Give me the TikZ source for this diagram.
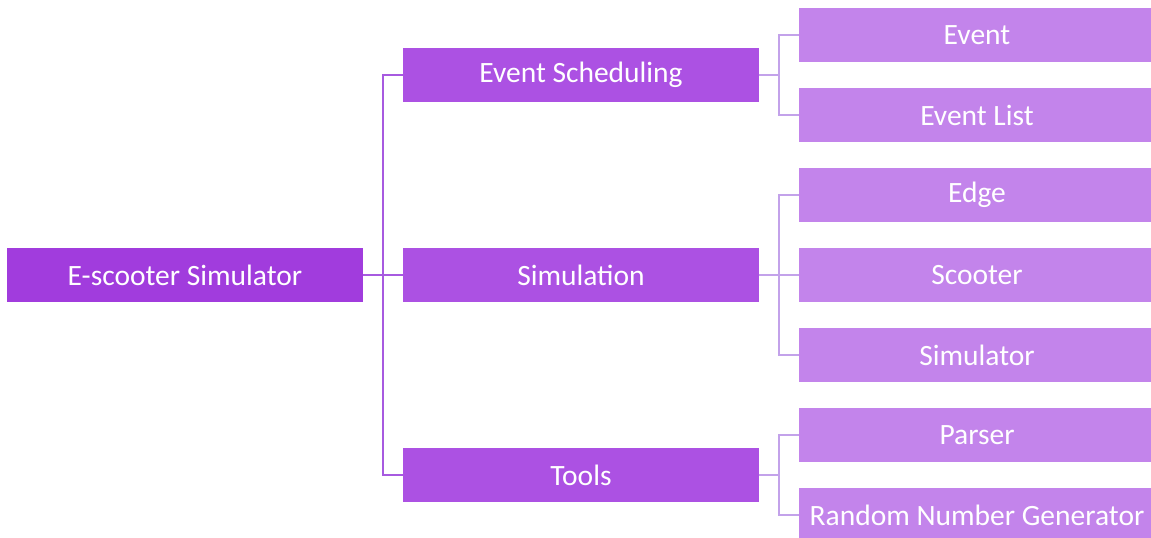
\documentclass[tikz,border=0pt]{standalone}
\usepackage{fontspec}
\setmainfont{Carlito}
\definecolor{rootfill}{HTML}{A13CDD}
\definecolor{branchfill}{HTML}{AC51E3}
\definecolor{leaffill}{HTML}{C384EB}
\definecolor{trunkline}{HTML}{A75AE0}
\definecolor{twigline}{HTML}{C3A2EA}
\tikzset{
    box/.style={rectangle, inner sep=0pt, minimum height=54pt, text=white,
        font=\fontsize{29.5}{34}\selectfont},
    rootbox/.style={box, fill=rootfill, minimum width=356pt},
    branchbox/.style={box, fill=branchfill, minimum width=356pt},
    leafbox/.style={box, fill=leaffill, minimum width=356pt},
    trunk/.style={draw=trunkline, line width=2.4pt},
    twig/.style={draw=twigline, line width=2.6pt}
}
\begin{document}
\begin{tikzpicture}[x=1pt,y=-1pt]
    \useasboundingbox (0,0) rectangle (1151,538);

    \node[rootbox] (root) at (185,275) {E-scooter Simulator};

    \node[branchbox] (sched) at (581,75) {Event Scheduling};
    \node[branchbox] (sim) at (581,275) {Simulation};
    \node[branchbox] (tools) at (581,475) {Tools};

    \node[leafbox] (event) at (977,35) {Event};
    \node[leafbox] (evlist) at (977,115) {Event List};
    \node[leafbox] (edge) at (977,195) {Edge};
    \node[leafbox] (scooter) at (977,275) {Scooter};
    \node[leafbox] (simr) at (977,355) {Simulator};
    \node[leafbox] (parser) at (977,435) {Parser};
    \node[leafbox] (rng) at (977,515) {Random Number Generator};

    % first level
    \draw[trunk] (root.east) -- (sim.west);
    \draw[trunk] (sched.west) -- ++(-20,0) |- (tools.west);

    % second level
    \draw[twig] (sched.east) -- ++(20,0);
    \draw[twig] (event.west) -- ++(-20,0) |- (evlist.west);
    \draw[twig] (sim.east) -- (scooter.west);
    \draw[twig] (edge.west) -- ++(-20,0) |- (simr.west);
    \draw[twig] (tools.east) -- ++(20,0);
    \draw[twig] (parser.west) -- ++(-20,0) |- (rng.west);
\end{tikzpicture}
\end{document}
